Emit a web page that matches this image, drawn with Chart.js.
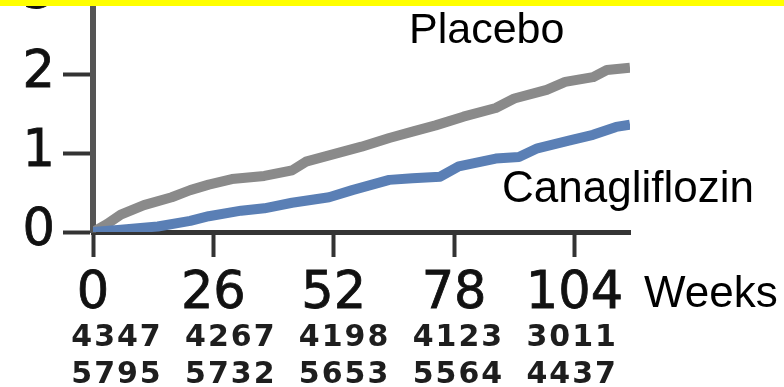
<!DOCTYPE html>
<html>
<head>
<meta charset="utf-8">
<script src="https://cdn.jsdelivr.net/npm/chart.js@4/dist/chart.umd.min.js"></script>
<style>
  html, body { margin: 0; padding: 0; background: #ffffff; }
  canvas { display: block; }
</style>
</head>
<body>
<canvas id="chart" width="784" height="387"></canvas>
<script>
// Cumulative event rate (%) over time, by treatment arm
const weekTicks = [0, 26, 52, 78, 104];
const placeboWeeks = [0, 3, 6, 11, 17, 21, 25, 30, 37, 43, 46, 51, 58, 64, 69, 74, 80, 87, 91, 98, 102, 108, 111, 116];
const placeboRate  = [0, 0.10, 0.22, 0.34, 0.44, 0.53, 0.60, 0.67, 0.71, 0.78, 0.89, 0.97, 1.08, 1.19, 1.27, 1.35, 1.46, 1.57, 1.69, 1.80, 1.90, 1.96, 2.05, 2.08];
const canaWeeks = [0, 6, 14, 21, 25, 32, 37, 43, 51, 56, 64, 69, 75, 79, 87, 92, 96, 103, 108, 113, 116];
const canaRate  = [0, 0.03, 0.07, 0.14, 0.20, 0.27, 0.30, 0.37, 0.44, 0.53, 0.66, 0.68, 0.70, 0.83, 0.93, 0.95, 1.06, 1.16, 1.23, 1.33, 1.36];
// Number at risk at each tick week
const atRiskPlacebo = [4347, 4267, 4198, 4123, 3011];
const atRiskCana    = [5795, 5732, 5653, 5564, 4437];
const seriesNames = ['Placebo', 'Canagliflozin'];
const xAxisName = 'Weeks';

const toPoints = (xs, ys) => xs.map((x, i) => ({ x, y: ys[i] }));

const TICK_FONT = { family: 'DejaVu Sans', size: 51, weight: 'normal', lineHeight: 1 };
const LINE_WIDTH = 10;

const annotations = {
  id: 'annotations',
  afterDraw(chart) {
    const ctx = chart.ctx;
    const ys = chart.scales.y;
    const area = chart.chartArea;
    ctx.save();

    // partially visible "3" tick label above the plot top
    ctx.fillStyle = '#111111';
    ctx.strokeStyle = '#111111';
    ctx.lineWidth = 0.8;
    ctx.font = '51px "DejaVu Sans"';
    ctx.textAlign = 'right';
    ctx.textBaseline = 'middle';
    ctx.fillText('3', area.left - 30 - 8, ys.getPixelForValue(3));
    ctx.strokeText('3', area.left - 30 - 8, ys.getPixelForValue(3));

    // series labels
    ctx.fillStyle = '#000000';
    ctx.textAlign = 'left';
    ctx.textBaseline = 'alphabetic';
    ctx.font = '43px "Liberation Sans"';
    ctx.fillText(seriesNames[0], 409, 43);
    ctx.font = '44px "Liberation Sans"';
    ctx.fillText(seriesNames[1], 502, 202);

    // axis name next to the last tick label
    ctx.font = '44px "Liberation Sans"';
    ctx.fillText(xAxisName, area.right + 14, 307);

    // number-at-risk rows
    ctx.fillStyle = '#1e1e1e';
    ctx.font = 'bold 30px "DejaVu Sans"';
    ctx.letterSpacing = '2px';
    ctx.textAlign = 'center';
    ctx.textBaseline = 'middle';
    const colStart = area.left + 24;
    const colStep = 113.8;
    atRiskPlacebo.forEach((n, i) => ctx.fillText(String(n), colStart + colStep * i, 338));
    atRiskCana.forEach((n, i) => ctx.fillText(String(n), colStart + colStep * i, 375));
    ctx.letterSpacing = '0px';

    // yellow strip along the top edge
    ctx.fillStyle = '#ffff00';
    ctx.fillRect(0, 0, chart.width, 6);
    ctx.restore();
  }
};

new Chart(document.getElementById('chart'), {
  type: 'line',
  data: {
    datasets: [
      {
        label: seriesNames[1],
        data: toPoints(canaWeeks, canaRate),
        borderColor: '#5a7fb5',
        borderWidth: LINE_WIDTH,
        pointRadius: 0,
        tension: 0,
        borderJoinStyle: 'round'
      },
      {
        label: seriesNames[0],
        data: toPoints(placeboWeeks, placeboRate),
        borderColor: '#8a8a8a',
        borderWidth: LINE_WIDTH,
        pointRadius: 0,
        tension: 0,
        borderJoinStyle: 'round'
      }
    ]
  },
  options: {
    responsive: false,
    animation: false,
    devicePixelRatio: 1,
    elements: { line: { borderWidth: LINE_WIDTH } },
    layout: { padding: { top: 0, left: 0, right: 154, bottom: 0 } },
    plugins: { legend: { display: false }, tooltip: { enabled: false } },
    scales: {
      x: {
        type: 'linear',
        min: 0,
        max: 116,
        afterBuildTicks(scale) { scale.ticks = weekTicks.map(v => ({ value: v })); },
        afterFit(scale) {
          scale.height = 155;
          scale.paddingLeft = 0;
          scale.paddingRight = 0;
        },
        ticks: {
          font: TICK_FONT,
          color: '#111111',
          textStrokeColor: '#111111',
          textStrokeWidth: 0.8,
          padding: 12,
          maxRotation: 0,
          autoSkip: false
        },
        grid: { drawOnChartArea: false, drawTicks: true, tickLength: 25, tickWidth: 4, tickColor: '#333333' },
        border: { display: true, color: '#353535', width: 5 }
      },
      y: {
        type: 'linear',
        min: 0,
        max: 2.937,
        afterBuildTicks(scale) { scale.ticks = [0, 1, 2].map(v => ({ value: v })); },
        afterFit(scale) {
          scale.width = 93;
          scale.paddingTop = 0;
          scale.paddingBottom = 0;
        },
        ticks: {
          font: TICK_FONT,
          color: '#111111',
          textStrokeColor: '#111111',
          textStrokeWidth: 0.8,
          padding: 8
        },
        grid: { drawOnChartArea: false, drawTicks: true, tickLength: 30, tickWidth: 4, tickColor: '#333333' },
        border: { display: true, color: '#555555', width: 6 }
      }
    }
  },
  plugins: [annotations]
});
</script>
</body>
</html>
